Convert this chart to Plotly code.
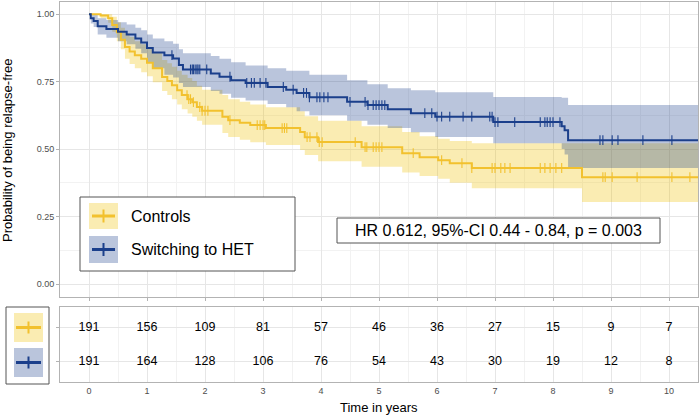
import numpy as np
import plotly.graph_objects as go

# ---------------- data ----------------
group_names = ["Controls", "Switching to HET"]

ctrl_time = [0, 0.2, 0.33, 0.4, 0.48, 0.55, 0.62, 0.7, 0.79, 0.9, 1.0, 1.1, 1.26, 1.35, 1.43,
             1.52, 1.6, 1.7, 1.78, 1.86, 1.95, 2.3, 2.4, 2.6, 2.78, 3.05, 3.64, 3.72, 3.95, 4.7,
             5.4, 5.7, 6.02, 6.22, 6.6, 8.5]
ctrl_surv = [1.0, 0.995, 0.985, 0.96, 0.933, 0.905, 0.878, 0.862, 0.848, 0.835, 0.82, 0.80, 0.767,
             0.752, 0.737, 0.718, 0.70, 0.685, 0.674, 0.656, 0.642, 0.62, 0.607, 0.598, 0.589,
             0.578, 0.563, 0.544, 0.526, 0.507, 0.485, 0.47, 0.459, 0.448, 0.43, 0.396]
ctrl_upper = [1.0, 1.0, 1.0, 0.99, 0.97, 0.95, 0.93, 0.915, 0.9, 0.888, 0.875, 0.858, 0.83, 0.818,
              0.805, 0.79, 0.775, 0.763, 0.752, 0.735, 0.72, 0.70, 0.685, 0.675, 0.665, 0.655,
              0.64, 0.622, 0.605, 0.585, 0.563, 0.548, 0.538, 0.53, 0.522, 0.522]
ctrl_lower = [1.0, 0.985, 0.968, 0.935, 0.90, 0.87, 0.835, 0.815, 0.80, 0.785, 0.77, 0.748, 0.715,
              0.70, 0.685, 0.665, 0.648, 0.632, 0.62, 0.605, 0.59, 0.56, 0.545, 0.535, 0.525,
              0.515, 0.497, 0.478, 0.455, 0.435, 0.413, 0.40, 0.39, 0.375, 0.355, 0.304]
ctrl_censor = [1.69, 1.72, 1.75, 1.8, 1.91, 1.95, 2.0, 2.05, 2.43, 2.9, 2.95, 3.0, 3.03, 3.33,
               3.37, 3.41, 3.76, 3.81, 3.93, 3.97, 4.02, 4.59, 4.76, 4.79, 4.9, 4.95, 5.0, 5.05,
               5.59, 6.08, 6.43, 6.6, 6.95, 7.0, 7.1, 7.17, 7.26, 7.78, 7.86, 7.95, 8.05, 8.15,
               8.86, 8.9, 9.02, 9.45, 10.05, 10.36]

het_time = [0, 0.03, 0.08, 0.15, 0.3, 0.5, 0.65, 0.8, 0.9, 1.0, 1.1, 1.3, 1.45, 1.55, 1.62, 2.1,
            2.25, 2.45, 2.7, 3.08, 3.4, 3.58, 3.8, 4.45, 4.8, 5.15, 5.55, 5.97, 6.97, 8.15, 8.2,
            8.26]
het_surv = [1.0, 0.985, 0.975, 0.955, 0.945, 0.935, 0.925, 0.91, 0.895, 0.875, 0.858, 0.848,
            0.836, 0.812, 0.795, 0.78, 0.768, 0.755, 0.745, 0.73, 0.72, 0.708, 0.692, 0.675,
            0.663, 0.648, 0.633, 0.62, 0.60, 0.585, 0.57, 0.533]
het_upper = [1.0, 1.0, 0.997, 0.985, 0.978, 0.97, 0.962, 0.95, 0.94, 0.925, 0.91, 0.90, 0.89,
             0.87, 0.855, 0.845, 0.835, 0.822, 0.81, 0.80, 0.79, 0.79, 0.775, 0.755, 0.74, 0.725,
             0.718, 0.711, 0.693, 0.69, 0.69, 0.663]
het_lower = [1.0, 0.965, 0.952, 0.925, 0.913, 0.90, 0.888, 0.872, 0.855, 0.82, 0.80, 0.775,
             0.765, 0.745, 0.73, 0.715, 0.705, 0.69, 0.68, 0.667, 0.655, 0.64, 0.625, 0.605,
             0.59, 0.578, 0.562, 0.545, 0.522, 0.50, 0.48, 0.43]
het_censor = [1.43, 1.75, 1.78, 1.8, 1.83, 1.86, 1.88, 1.91, 2.03, 2.43, 2.72, 2.8, 2.85, 2.95,
              3.05, 3.35, 3.52, 3.7, 3.75, 3.8, 3.93, 3.98, 4.05, 4.12, 4.5, 4.76, 4.81, 4.9,
              4.95, 5.0, 5.05, 5.1, 5.79, 5.91, 6.0, 6.08, 6.22, 6.45, 6.6, 6.91, 6.95, 7.0,
              7.05, 7.34, 7.78, 7.86, 7.9, 7.95, 8.0, 8.12, 8.81, 8.86, 9.02, 9.12, 9.55, 10.05]

max_followup = 10.6

risk_times = [0, 1, 2, 3, 4, 5, 6, 7, 8, 9, 10]
ctrl_at_risk = [191, 156, 109, 81, 57, 46, 36, 27, 15, 9, 7]
het_at_risk = [191, 164, 128, 106, 76, 54, 43, 30, 19, 12, 8]

y_ticks = [0, 0.25, 0.5, 0.75, 1.0]
y_tick_labels = ["0.00", "0.25", "0.50", "0.75", "1.00"]
x_ticks = list(range(0, 11))

hr_text = "HR 0.612, 95%-CI 0.44 - 0.84, p = 0.003"

# ---------------- styling ----------------
W, H = 700, 415
YEL = "#F2C12E"
BLU = "#1B3F8B"
YEL_F = "rgba(239,192,0,0.30)"
BLU_F = "rgba(27,63,139,0.30)"
GRID = "#E6E6E6"
GRID_MINOR = "#F2F2F2"
BORDER = "#B3B3B3"
TICKTXT = "#4D4D4D"
FONT = "Liberation Sans, Arial, sans-serif"


def fx(x):
    return x / W


def fy(y):
    return 1 - y / H


def ext(t, v):
    return list(t) + [max_followup], list(v) + [v[-1]]


def step_at(times, vals, pts):
    idx = np.searchsorted(np.array(times), np.array(pts), side="right") - 1
    return [vals[i] for i in idx]


fig = go.Figure()

# bands
for t, lo, up, fc in [(ctrl_time, ctrl_lower, ctrl_upper, YEL_F),
                      (het_time, het_lower, het_upper, BLU_F)]:
    tx, lo2 = ext(t, lo)
    _, up2 = ext(t, up)
    fig.add_trace(go.Scatter(x=tx, y=lo2, mode="lines", line=dict(width=0, shape="hv"),
                             hoverinfo="skip", showlegend=False))
    fig.add_trace(go.Scatter(x=tx, y=up2, mode="lines", line=dict(width=0, shape="hv"),
                             fill="tonexty", fillcolor=fc, hoverinfo="skip", showlegend=False))

# curves
for t, s, cen, col, name in [(ctrl_time, ctrl_surv, ctrl_censor, YEL, group_names[0]),
                             (het_time, het_surv, het_censor, BLU, group_names[1])]:
    tx, sx = ext(t, s)
    fig.add_trace(go.Scatter(x=tx, y=sx, mode="lines", line=dict(color=col, width=2, shape="hv"),
                             name=name, showlegend=False))
    fig.add_trace(go.Scatter(x=cen, y=step_at(t, s, cen), mode="markers",
                             marker=dict(symbol="line-ns-open", size=7, color=col,
                                         line=dict(color=col, width=1.1)),
                             showlegend=False, hoverinfo="skip"))

# risk table
for cnt, yrow in [(ctrl_at_risk, 2), (het_at_risk, 1)]:
    fig.add_trace(go.Scatter(x=risk_times, y=[yrow] * len(risk_times), mode="text",
                             text=[str(c) for c in cnt], textposition="middle center",
                             textfont=dict(size=12.5, color="black", family=FONT),
                             xaxis="x2", yaxis="y2", showlegend=False, hoverinfo="skip"))

main_x = [fx(60), fx(698)]
axis_common = dict(showline=True, mirror=True, linecolor=BORDER, linewidth=1, zeroline=False,
                   gridcolor=GRID, gridwidth=1, automargin=False)

fig.update_layout(
    width=W, height=H, margin=dict(l=0, r=0, t=0, b=0, autoexpand=False),
    paper_bgcolor="white", plot_bgcolor="white",
    font=dict(family=FONT),
    xaxis=dict(domain=main_x, range=[-0.5, 10.5], tickvals=x_ticks, showticklabels=False,
               ticks="outside", ticklen=3, tickcolor=BORDER,
               minor=dict(dtick=0.5, showgrid=True, gridcolor=GRID_MINOR, ticks=""),
               anchor="y", **axis_common),
    yaxis=dict(domain=[fy(297), fy(2)], range=[-0.048, 1.045], tickvals=y_ticks,
               ticktext=y_tick_labels, ticks="outside", ticklen=3, tickcolor=BORDER,
               tickfont=dict(size=9, color=TICKTXT),
               minor=dict(dtick=0.125, tick0=0, showgrid=True, gridcolor=GRID_MINOR, ticks=""),
               anchor="x", **axis_common),
    xaxis2=dict(domain=main_x, range=[-0.5, 10.5], tickvals=x_ticks,
                ticktext=[str(v) for v in x_ticks], ticks="",
                tickfont=dict(size=9, color=TICKTXT),
                minor=dict(dtick=0.5, showgrid=True, gridcolor=GRID_MINOR, ticks=""),
                anchor="y2", **axis_common),
    yaxis2=dict(domain=[fy(382), fy(307)], range=[0.4, 2.6], tickvals=[1, 2],
                showticklabels=False, ticks="outside", ticklen=3, tickcolor=BORDER,
                anchor="x2", **axis_common),
)

shapes = []
annots = []

# main legend box
shapes.append(dict(type="rect", xref="paper", yref="paper", x0=fx(80), x1=fx(295),
                   y0=fy(271), y1=fy(197), line=dict(color="#555555", width=1),
                   fillcolor="white", layer="above"))
for (ytop, ybot, fc, col, label) in [(203, 229, YEL_F, YEL, group_names[0]),
                                     (236, 263, BLU_F, BLU, group_names[1])]:
    yc = (ytop + ybot) / 2
    shapes.append(dict(type="rect", xref="paper", yref="paper", x0=fx(89), x1=fx(118),
                       y0=fy(ybot), y1=fy(ytop), line=dict(width=0), fillcolor=fc,
                       layer="above"))
    shapes.append(dict(type="line", xref="paper", yref="paper", x0=fx(92), x1=fx(115),
                       y0=fy(yc), y1=fy(yc), line=dict(color=col, width=3), layer="above"))
    shapes.append(dict(type="line", xref="paper", yref="paper", x0=fx(103.5), x1=fx(103.5),
                       y0=fy(yc - 6.5), y1=fy(yc + 6.5), line=dict(color=col, width=2),
                       layer="above"))
    annots.append(dict(xref="paper", yref="paper", x=fx(129), y=fy(yc), text=label,
                       showarrow=False, xanchor="left", yanchor="middle",
                       font=dict(size=16, color="black", family=FONT)))

# risk table legend
shapes.append(dict(type="rect", xref="paper", yref="paper", x0=fx(6), x1=fx(49),
                   y0=fy(384), y1=fy(307), line=dict(color="#555555", width=1),
                   fillcolor="white", layer="above"))
for (ytop, ybot, fc, col) in [(313, 342, YEL_F, YEL), (348, 377, BLU_F, BLU)]:
    yc = (ytop + ybot) / 2
    shapes.append(dict(type="rect", xref="paper", yref="paper", x0=fx(14), x1=fx(43),
                       y0=fy(ybot), y1=fy(ytop), line=dict(width=0), fillcolor=fc,
                       layer="above"))
    shapes.append(dict(type="line", xref="paper", yref="paper", x0=fx(16), x1=fx(41),
                       y0=fy(yc), y1=fy(yc), line=dict(color=col, width=3), layer="above"))
    shapes.append(dict(type="line", xref="paper", yref="paper", x0=fx(28.5), x1=fx(28.5),
                       y0=fy(yc - 6), y1=fy(yc + 6), line=dict(color=col, width=2),
                       layer="above"))

# HR box
shapes.append(dict(type="rect", xref="paper", yref="paper", x0=fx(337), x1=fx(660),
                   y0=fy(243), y1=fy(218), line=dict(color="#555555", width=1),
                   fillcolor="white", layer="above"))
annots.append(dict(xref="paper", yref="paper", x=fx(498.5), y=fy(230.5), text=hr_text,
                   showarrow=False, xanchor="center", yanchor="middle",
                   font=dict(size=16, color="black", family=FONT)))

# axis titles
annots.append(dict(xref="paper", yref="paper", x=fx(7), y=fy(150),
                   text="Probability of being relapse-free", textangle=-90, showarrow=False,
                   xanchor="center", yanchor="middle",
                   font=dict(size=13, color="black", family=FONT)))
annots.append(dict(xref="paper", yref="paper", x=fx(379), y=fy(407), text="Time in years",
                   showarrow=False, xanchor="center", yanchor="middle",
                   font=dict(size=13, color="black", family=FONT)))

fig.update_layout(shapes=shapes, annotations=annots)
fig.write_html("out.html",
               config={"displayModeBar": False, "staticPlot": True},
               post_script="document.body.style.margin='0px';"
                           "document.body.style.overflow='hidden';")
